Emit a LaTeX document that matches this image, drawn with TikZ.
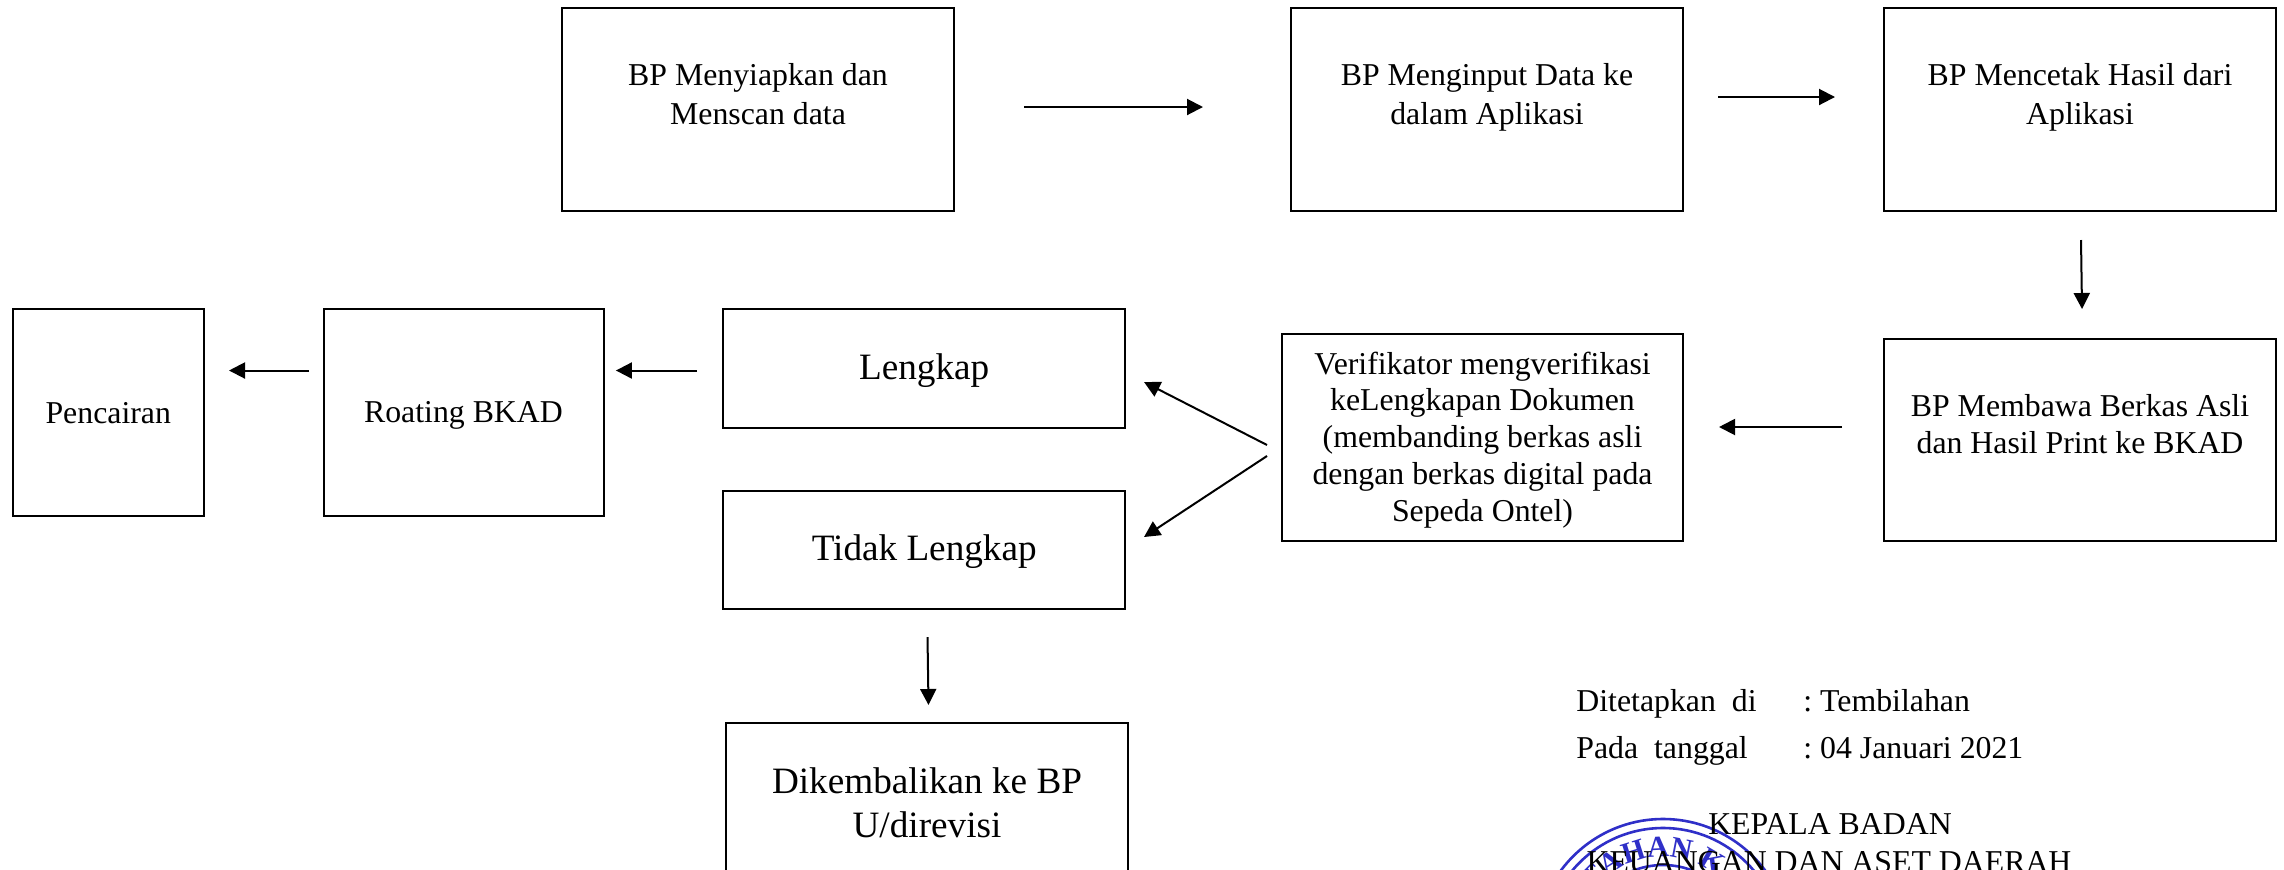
\documentclass[tikz,border=0pt]{standalone}
\usepackage{fontspec}
\setmainfont{Liberation Serif}
\usetikzlibrary{arrows.meta,calc,decorations.text}
\definecolor{stampblue}{HTML}{2F2FC8}
\frenchspacing
\newcommand{\boxtext}[6]{\parbox[c][\dimexpr#2pt/2\relax][t]{\dimexpr#1pt/2\relax}{\centering\fontsize{#4}{#5}\selectfont\rule{0pt}{\dimexpr#3pt/2\relax}#6}}
\tikzset{
  flowbox/.style={draw=black,line width=1pt,inner sep=0pt,outer sep=0pt,fill=white},
  conn/.style={draw=black,line width=1pt,-{Triangle[length=8pt,width=8pt]}},
  plain/.style={anchor=base,inner sep=0pt,font=\fontsize{15.9}{19}\selectfont},
  plainw/.style={plain,anchor=base west},
  stampring/.style={draw=stampblue,line width=1.3pt}
}
\begin{document}
\begin{tikzpicture}[x=0.5pt,y=-0.5pt]
\useasboundingbox (0,0) rectangle (2284,869);
\fill[white] (0,0) rectangle (2284,869);
\clip (0,0) rectangle (2284,869);

% top row
\node[flowbox] (siapkan) at (758,109.5) {\boxtext{392}{203}{77}{15.9}{19.5}{BP Menyiapkan dan\\Menscan data}};
\node[flowbox] (input) at (1487,109.5) {\boxtext{392}{203}{77}{15.9}{19.5}{BP Menginput Data ke\\dalam Aplikasi}};
\node[flowbox] (cetak) at (2080,109.5) {\boxtext{392}{203}{77}{15.9}{19.5}{BP Mencetak Hasil dari\\Aplikasi}};
% middle row
\node[flowbox] (bawa) at (2080,440) {\boxtext{392}{202}{77}{15.9}{18.5}{BP Membawa Berkas Asli\\dan Hasil Print ke BKAD}};
\node[flowbox] (verif) at (1482.5,437.5) {\boxtext{401}{207}{40}{15.9}{18.4}{Verifikator mengverifikasi\\keLengkapan Dokumen\\(membanding berkas asli\\dengan berkas digital pada\\Sepeda Ontel)}};
\node[flowbox] (lengkap) at (924.2,368) {\boxtext{401.6}{119}{71}{18.6}{22}{Lengkap}};
\node[flowbox] (tidak) at (924.2,549.75) {\boxtext{401.6}{118.5}{69.5}{18.6}{22}{Tidak Lengkap}};
\node[flowbox] (roating) at (463.5,412.25) {\boxtext{280}{207.5}{114}{15.9}{19.5}{Roating BKAD}};
\node[flowbox] (cair) at (108.25,412.25) {\boxtext{191.5}{207.5}{114.5}{15.9}{19.5}{Pencairan}};
\node[flowbox] (kembali) at (927,843) {\boxtext{402}{240}{70.5}{18.6}{22}{Dikembalikan ke BP\\U/direvisi}};

% connectors
\draw[conn] ([shift={(70,-2.5)}]siapkan.east) -- ([shift={(-88,-2.5)}]input.west);
\draw[conn] ([shift={(35,-12.5)}]input.east) -- ([shift={(-49,-12.5)}]cetak.west);
\draw[conn] ([shift={(1,29)}]cetak.south) -- ([shift={(2,-30)}]bawa.north);
\draw[conn] ([shift={(-42,-13)}]bawa.west) -- ([shift={(36,-10.5)}]verif.east);
\draw[conn] ([shift={(-15,7.5)}]verif.west) -- ([shift={(19,14)}]lengkap.east);
\draw[conn] ([shift={(-15,18.5)}]verif.west) -- ([shift={(19,-12.75)}]tidak.east);
\draw[conn] ([shift={(-26.4,2.5)}]lengkap.west) -- ([shift={(12.4,-41.75)}]roating.east);
\draw[conn] ([shift={(-14.5,-41.75)}]roating.west) -- ([shift={(25,-41.75)}]cair.east);
\draw[conn] ([shift={(3.3,28)}]tidak.south) -- ([shift={(1.5,-18)}]kembali.north);

% stamp
\coordinate (stamp) at (1663,946);
\draw[stampring] (stamp) circle[radius=63.5pt];
\draw[stampring] (stamp) circle[radius=59pt];
\draw[stampring] (stamp) circle[radius=40.5pt];
\path[decorate,decoration={text along path,text align=center,
  text={|\fontsize{15}{15}\bfseries\selectfont\color{stampblue}|TAHAN KA}}]
  ($(stamp)+(125:44.5pt)$) arc[start angle=125,end angle=55,radius=44.5pt];

% signature block
\node[plainw] (ditetapkan) at (1576,711) {Ditetapkan\ \ di};
\node[plainw] (tembilahan) at (1803,711) {: Tembilahan};
\node[plainw] (pada) at (1576,758) {Pada\ \ tanggal};
\node[plainw] (tanggal) at (1803,758) {: 04 Januari 2021};
\node[plain] (kepala) at (1830,834) {KEPALA BADAN};
\node[plain] (keuangan) at (1829,872) {KEUANGAN DAN ASET DAERAH};
\end{tikzpicture}
\end{document}
